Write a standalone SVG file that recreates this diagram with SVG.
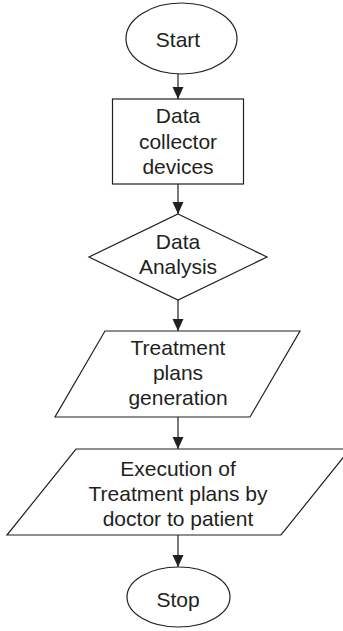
<svg xmlns="http://www.w3.org/2000/svg" width="343" height="631" viewBox="0 0 343 631">
  <style>
    .shape { fill: #ffffff; stroke: #231f20; stroke-width: 1.2; }
    .label { font-family: "Liberation Sans", Arial, sans-serif; font-size: 21px; fill: #231f20; text-anchor: middle; }
    .link { stroke: #231f20; stroke-width: 1.2; fill: none; marker-end: url(#arrow); }
  </style>
  <defs>
    <marker id="arrow" viewBox="0 0 12 12" refX="12" refY="6" markerWidth="12" markerHeight="12" markerUnits="userSpaceOnUse" orient="auto">
      <path d="M0,0.5 L12,6 L0,11.5 Z" fill="#231f20"/>
    </marker>
  </defs>
  <rect width="343" height="631" fill="#ffffff"/>

  <g id="connectors">
    <line class="link" x1="178" y1="74" x2="178" y2="99"/>
    <line class="link" x1="178" y1="184" x2="178" y2="214"/>
    <line class="link" x1="178" y1="300" x2="178" y2="331"/>
    <line class="link" x1="178" y1="417" x2="178" y2="449"/>
    <line class="link" x1="178" y1="535" x2="178" y2="567"/>
  </g>

  <g id="start">
    <ellipse class="shape" cx="181.5" cy="38.5" rx="55.5" ry="35.5"/>
    <text class="label" x="178" y="47">Start</text>
  </g>

  <g id="data-collector">
    <rect class="shape" x="112.5" y="99" width="131" height="85"/>
    <text class="label" x="178" y="123">Data</text>
    <text class="label" x="178" y="148.5">collector</text>
    <text class="label" x="178" y="174">devices</text>
  </g>

  <g id="data-analysis">
    <polygon class="shape" points="178,214 267,257 178,300 89,257"/>
    <text class="label" x="178" y="249">Data</text>
    <text class="label" x="178" y="274">Analysis</text>
  </g>

  <g id="plan-generation">
    <polygon class="shape" points="105,331 300,331 250,417 55,417"/>
    <text class="label" x="178" y="355">Treatment</text>
    <text class="label" x="178" y="380">plans</text>
    <text class="label" x="178" y="405">generation</text>
  </g>

  <g id="plan-execution">
    <polygon class="shape" points="76,449 350,449 281,535 7,535"/>
    <text class="label" x="178" y="476">Execution of</text>
    <text class="label" x="178" y="501">Treatment plans by</text>
    <text class="label" x="178" y="526">doctor to patient</text>
  </g>

  <g id="stop">
    <ellipse class="shape" cx="178.5" cy="597" rx="51.5" ry="30"/>
    <text class="label" x="178" y="607">Stop</text>
  </g>
</svg>
